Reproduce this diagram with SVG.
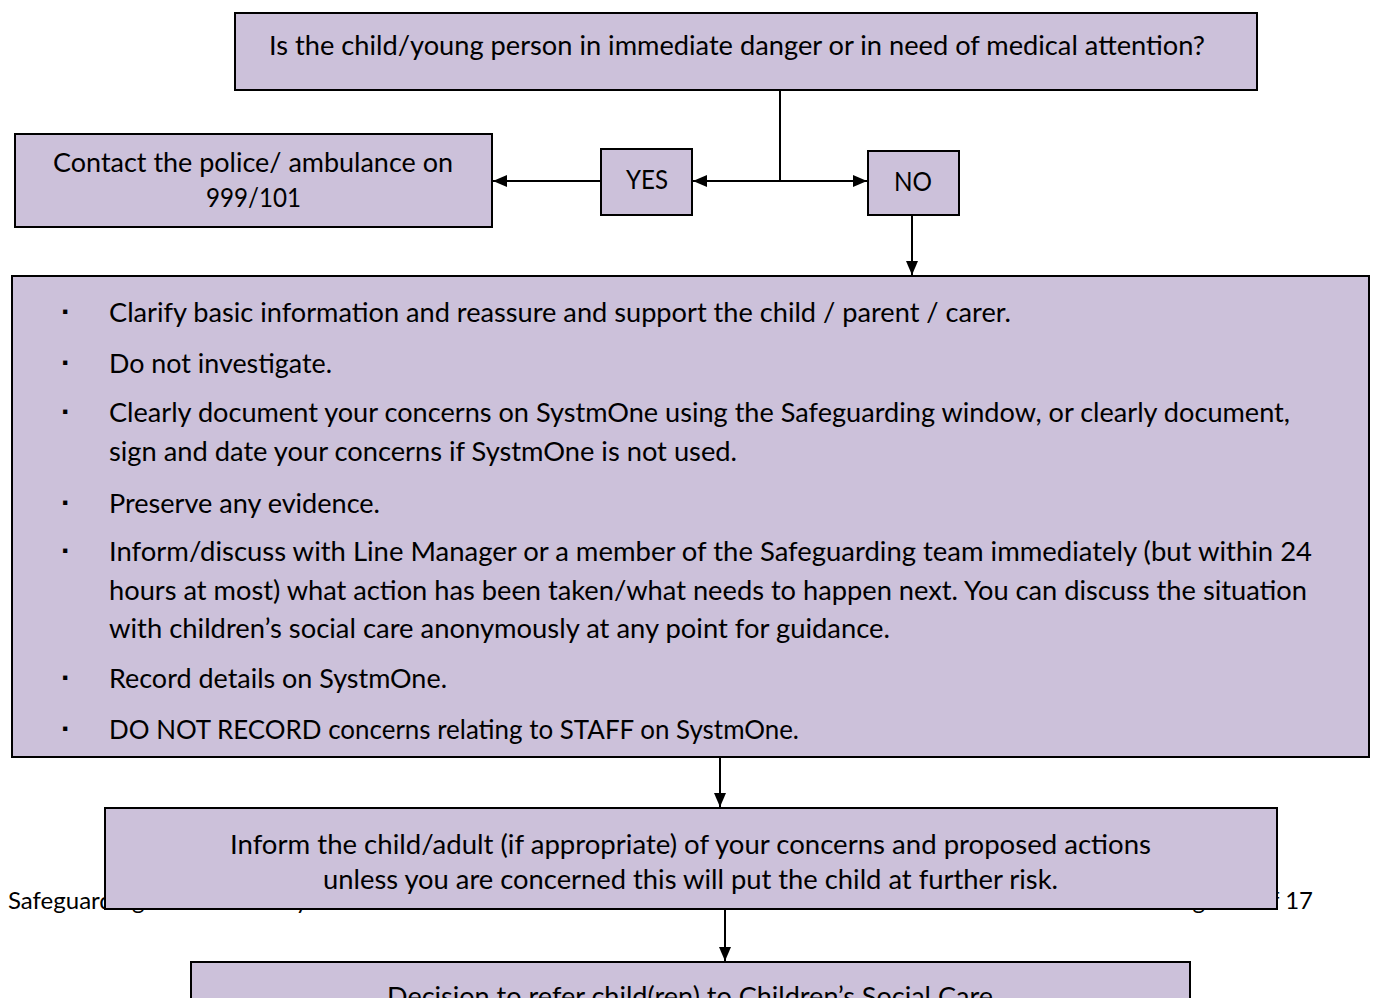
<svg xmlns="http://www.w3.org/2000/svg" width="1373" height="998" viewBox="0 0 1373 998">
<style>
.box{fill:#CCC1DA;stroke:#000;stroke-width:2}
.t{font-family:Lato,"Liberation Sans",sans-serif;font-size:26.5px;fill:#000}
.f{font-family:Lato,"Liberation Sans",sans-serif;font-size:24px;fill:#000}
.ln{stroke:#000;stroke-width:2;fill:none}
.bul{font-family:"Liberation Sans",sans-serif;font-size:30px;font-weight:bold;fill:#000}
</style>
<defs>
<marker id="ah" markerUnits="userSpaceOnUse" markerWidth="14" markerHeight="12" refX="14" refY="6" orient="auto">
<path d="M0,0 L14,6 L0,12 z" fill="#000"/>
</marker>
</defs>
<rect width="1373" height="998" fill="#fff"/>

<g id="footer">
<text class="f" x="8" y="909">Safeguarding Children Policy</text>
<text class="f" x="1313" y="909" text-anchor="end">Page 10 of 17</text>
</g>

<g id="connectors">
<line class="ln" x1="780" y1="90" x2="780" y2="181"/>
<line class="ln" x1="780" y1="181" x2="693" y2="181" marker-end="url(#ah)"/>
<line class="ln" x1="780" y1="181" x2="867" y2="181" marker-end="url(#ah)"/>
<line class="ln" x1="601" y1="181" x2="493" y2="181" marker-end="url(#ah)"/>
<line class="ln" x1="912" y1="215" x2="912" y2="275" marker-end="url(#ah)"/>
<line class="ln" x1="720" y1="757" x2="720" y2="807" marker-end="url(#ah)"/>
<line class="ln" x1="725" y1="909" x2="725" y2="961" marker-end="url(#ah)"/>
</g>

<g id="question">
<rect class="box" x="235" y="13" width="1022" height="77"/>
<text class="t" x="269" y="55" textLength="936" lengthAdjust="spacingAndGlyphs">Is the child/young person in immediate danger or in need of medical attention?</text>
</g>

<g id="contact">
<rect class="box" x="15" y="134" width="477" height="93"/>
<text class="t" x="53" y="172" textLength="400" lengthAdjust="spacingAndGlyphs">Contact the police/ ambulance on</text>
<text class="t" x="206" y="207" textLength="95" lengthAdjust="spacingAndGlyphs">999/101</text>
</g>

<g id="yes">
<rect class="box" x="601" y="149" width="91" height="66"/>
<text class="t" x="626" y="189" textLength="42" lengthAdjust="spacingAndGlyphs">YES</text>
</g>

<g id="no">
<rect class="box" x="868" y="151" width="91" height="64"/>
<text class="t" x="894" y="191" textLength="38" lengthAdjust="spacingAndGlyphs">NO</text>
</g>

<g id="actions">
<rect class="box" x="12" y="276" width="1357" height="481"/>
<text class="bul" x="66" y="322" text-anchor="middle">·</text>
<text class="t" x="109" y="322" textLength="902" lengthAdjust="spacingAndGlyphs">Clarify basic information and reassure and support the child / parent / carer.</text>
<text class="bul" x="66" y="373" text-anchor="middle">·</text>
<text class="t" x="109" y="373" textLength="223" lengthAdjust="spacingAndGlyphs">Do not investigate.</text>
<text class="bul" x="66" y="422" text-anchor="middle">·</text>
<text class="t" x="109" y="422" textLength="1181" lengthAdjust="spacingAndGlyphs">Clearly document your concerns on SystmOne using the Safeguarding window, or clearly document,</text>
<text class="t" x="109" y="461" textLength="628" lengthAdjust="spacingAndGlyphs">sign and date your concerns if SystmOne is not used.</text>
<text class="bul" x="66" y="513" text-anchor="middle">·</text>
<text class="t" x="109" y="513" textLength="271" lengthAdjust="spacingAndGlyphs">Preserve any evidence.</text>
<text class="bul" x="66" y="561" text-anchor="middle">·</text>
<text class="t" x="109" y="561" textLength="1203" lengthAdjust="spacingAndGlyphs">Inform/discuss with Line Manager or a member of the Safeguarding team immediately (but within 24</text>
<text class="t" x="109" y="600" textLength="1198" lengthAdjust="spacingAndGlyphs">hours at most) what action has been taken/what needs to happen next. You can discuss the situation</text>
<text class="t" x="109" y="638" textLength="781" lengthAdjust="spacingAndGlyphs">with children’s social care anonymously at any point for guidance.</text>
<text class="bul" x="66" y="688" text-anchor="middle">·</text>
<text class="t" x="109" y="688" textLength="338" lengthAdjust="spacingAndGlyphs">Record details on SystmOne.</text>
<text class="bul" x="66" y="739" text-anchor="middle">·</text>
<text class="t" x="109" y="739" textLength="690" lengthAdjust="spacingAndGlyphs">DO NOT RECORD concerns relating to STAFF on SystmOne.</text>
</g>

<g id="inform">
<rect class="box" x="105" y="808" width="1172" height="101"/>
<text class="t" x="230" y="854" textLength="921" lengthAdjust="spacingAndGlyphs">Inform the child/adult (if appropriate) of your concerns and proposed actions</text>
<text class="t" x="323" y="889" textLength="735" lengthAdjust="spacingAndGlyphs">unless you are concerned this will put the child at further risk.</text>
</g>

<g id="decision">
<rect class="box" x="191" y="962" width="999" height="60"/>
<text class="t" x="387" y="1006" textLength="606" lengthAdjust="spacingAndGlyphs">Decision to refer child(ren) to Children’s Social Care</text>
</g>
</svg>
